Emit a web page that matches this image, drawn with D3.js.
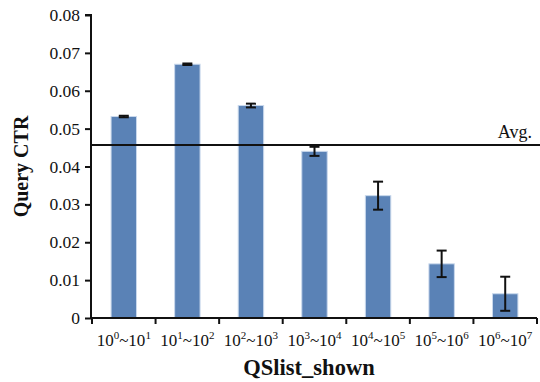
<!DOCTYPE html>
<html>
<head>
<meta charset="utf-8">
<script src="https://cdn.jsdelivr.net/npm/d3@7"></script>
<style>
  body { margin: 0; background: #fff; }
  text { font-family: "Liberation Serif", "Times New Roman", serif; fill: #111; }
</style>
</head>
<body>
<div id="chart"></div>
<script>
// bin labels: [base exponent from, exponent to]
const bins = [[0, 1], [1, 2], [2, 3], [3, 4], [4, 5], [5, 6], [6, 7]];
const ctr = [0.0532, 0.0670, 0.0561, 0.0440, 0.0323, 0.0143, 0.0064];
const err = [0.0002, 0.0002, 0.0005, 0.0012, 0.0037, 0.0035, 0.0045];
const avg = 0.0457;
const yTicks = [0, 0.01, 0.02, 0.03, 0.04, 0.05, 0.06, 0.07, 0.08];

const W = 540, H = 382;
const margin = { top: 15, right: 3, bottom: 64, left: 91 };

const svg = d3.select('#chart').append('svg')
  .attr('width', W)
  .attr('height', H);

const x = d3.scaleBand()
  .domain(bins.map((d, i) => i))
  .range([margin.left + 1, W - margin.right])
  .padding(0);

const y = d3.scaleLinear()
  .domain([0, 0.08])
  .range([H - margin.bottom, margin.top]);

const barW = x.bandwidth() * 0.4;

// bars
svg.append('g')
  .selectAll('rect')
  .data(ctr)
  .enter()
  .append('rect')
  .attr('x', (d, i) => x(i) + (x.bandwidth() - barW) / 2)
  .attr('y', d => y(d))
  .attr('width', barW)
  .attr('height', d => y(0) - y(d))
  .attr('fill', '#5a82b6')
  .attr('stroke', '#c9d8ec')
  .attr('stroke-width', 1);

// error bars
const eb = svg.append('g')
  .attr('stroke', '#111')
  .attr('stroke-width', 2);
ctr.forEach((v, i) => {
  const cx = x(i) + x.bandwidth() / 2;
  eb.append('line')
    .attr('x1', cx).attr('x2', cx)
    .attr('y1', y(v - err[i])).attr('y2', y(v + err[i]));
  [v - err[i], v + err[i]].forEach(e => {
    eb.append('line')
      .attr('x1', cx - 5).attr('x2', cx + 5)
      .attr('y1', y(e)).attr('y2', y(e));
  });
});

// y axis
const yAxis = d3.axisLeft(y)
  .tickValues(yTicks)
  .tickSize(6)
  .tickPadding(5)
  .tickFormat(d => d === 0 ? '0' : d3.format('.2f')(d));

svg.append('g')
  .attr('transform', `translate(${margin.left}, 0)`)
  .call(yAxis)
  .call(g => g.select('.domain').attr('stroke', '#111').attr('stroke-width', 2)
    .attr('d', `M-6,${y(0.08)}H0V${y(0)}`))
  .call(g => g.selectAll('.tick line').attr('stroke', '#111').attr('stroke-width', 2))
  .call(g => g.selectAll('.tick text')
    .style('font-family', '"Liberation Serif", serif')
    .style('font-size', '17.5px')
    .attr('fill', '#111'));

// x axis
const xAxis = svg.append('g')
  .attr('transform', `translate(0, ${y(0)})`);

xAxis.append('line')
  .attr('x1', margin.left).attr('x2', W - margin.right)
  .attr('y1', 0).attr('y2', 0)
  .attr('stroke', '#111')
  .attr('stroke-width', 2);

const edges = bins.map((d, i) => x(i)).concat([x(bins.length - 1) + x.bandwidth()]);
xAxis.selectAll('.xtick')
  .data(edges)
  .enter()
  .append('line')
  .attr('x1', d => d).attr('x2', d => d)
  .attr('y1', 0).attr('y2', 6)
  .attr('stroke', '#111')
  .attr('stroke-width', 2);

const labels = xAxis.selectAll('.xlab')
  .data(bins)
  .enter()
  .append('text')
  .attr('x', (d, i) => x(i) + x.bandwidth() / 2)
  .attr('y', 28)
  .attr('text-anchor', 'middle')
  .style('font-size', '17px');

labels.each(function(d) {
  const t = d3.select(this);
  t.append('tspan').text('10');
  t.append('tspan').attr('dy', -7).style('font-size', '11px').text(d[0]);
  t.append('tspan').attr('dy', 7).text('~10');
  t.append('tspan').attr('dy', -7).style('font-size', '11px').text(d[1]);
});

// average line
svg.append('line')
  .attr('x1', margin.left)
  .attr('x2', W)
  .attr('y1', y(avg))
  .attr('y2', y(avg))
  .attr('stroke', '#111')
  .attr('stroke-width', 2);

svg.append('text')
  .attr('x', 532)
  .attr('y', y(avg) - 7)
  .attr('text-anchor', 'end')
  .style('font-size', '18px')
  .text('Avg.');

// axis titles
svg.append('text')
  .attr('transform', `translate(28, ${(y(0) + y(0.08)) / 2}) rotate(-90)`)
  .attr('text-anchor', 'middle')
  .style('font-size', '20px')
  .style('font-weight', 'bold')
  .text('Query CTR');

svg.append('text')
  .attr('x', 309)
  .attr('y', 375)
  .attr('text-anchor', 'middle')
  .style('font-size', '22.5px')
  .style('font-weight', 'bold')
  .text('QSlist_shown');
</script>
</body>
</html>
